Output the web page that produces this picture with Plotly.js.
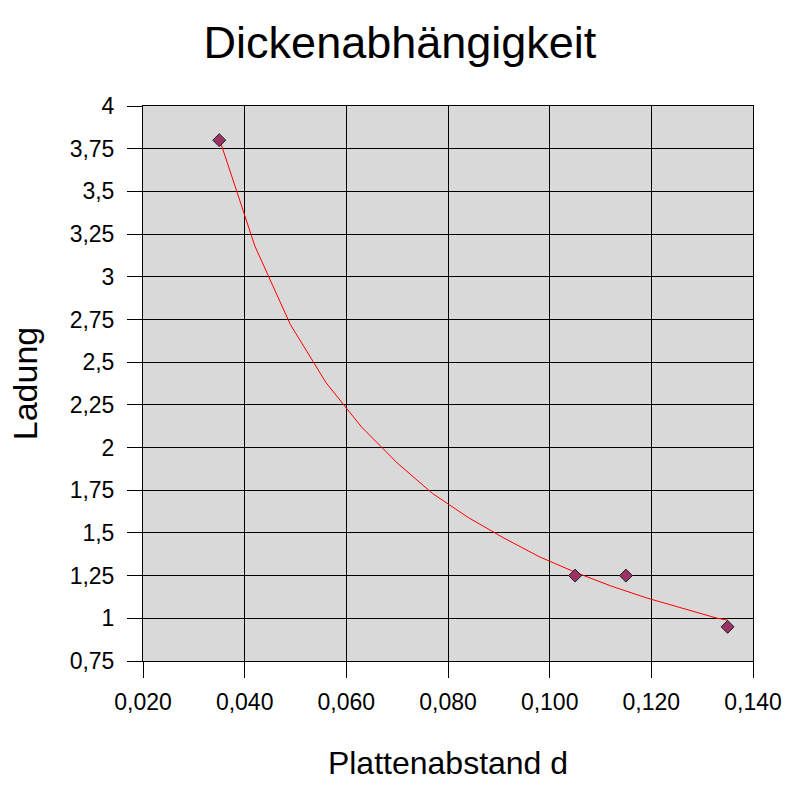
<!DOCTYPE html>
<html>
<head>
<meta charset="utf-8">
<script src="https://cdn.plot.ly/plotly-3.0.1.min.js"></script>
<style>html,body{margin:0;padding:0;background:#fff;}#chart{width:800px;height:800px;}</style>
</head>
<body>
<div id="chart"></div>
<script>
// Measured points
const plattenabstand = [0.035, 0.105, 0.115, 0.135];
const ladung = [3.80, 1.25, 1.25, 0.95];

// Trend line (power fit)
const trendX = [0.035, 0.042, 0.049, 0.056, 0.063, 0.070, 0.077, 0.084, 0.091, 0.098, 0.105, 0.112, 0.119, 0.126, 0.133, 0.135];
const trendY = [3.81, 3.18, 2.72, 2.38, 2.12, 1.91, 1.73, 1.59, 1.47, 1.36, 1.27, 1.19, 1.12, 1.06, 1.00, 0.99];

// Tick labels
const xTickVals = [0.02, 0.04, 0.06, 0.08, 0.10, 0.12, 0.14];
const xTickText = ["0,020", "0,040", "0,060", "0,080", "0,100", "0,120", "0,140"];
const yTickVals = [0.75, 1, 1.25, 1.5, 1.75, 2, 2.25, 2.5, 2.75, 3, 3.25, 3.5, 3.75, 4];
const yTickText = ["0,75", "1", "1,25", "1,5", "1,75", "2", "2,25", "2,5", "2,75", "3", "3,25", "3,5", "3,75", "4"];

const FONT = "Liberation Sans, Arial, sans-serif";

const traces = [
  {
    x: trendX, y: trendY, type: "scatter", mode: "lines",
    line: {color: "#ff0000", width: 1}, hoverinfo: "skip", showlegend: false
  },
  {
    x: plattenabstand, y: ladung, type: "scatter", mode: "markers",
    marker: {symbol: "diamond", size: 10, color: "#993366", line: {color: "#222222", width: 1}},
    showlegend: false
  }
];

const layout = {
  width: 800, height: 800,
  margin: {l: 143, r: 47, t: 106, b: 139},
  paper_bgcolor: "#ffffff",
  plot_bgcolor: "#d9d9d9",
  font: {family: FONT, color: "#000000"},
  showlegend: false,
  title: {
    text: "Dickenabhängigkeit",
    font: {family: FONT, size: 45, color: "#000"},
    x: 0.5, xanchor: "center", y: 0.947, yanchor: "middle", yref: "container"
  },
  xaxis: {
    range: [0.02, 0.14],
    tickmode: "array", tickvals: xTickVals, ticktext: xTickText,
    ticks: "outside", ticklen: 16, tickwidth: 1, tickcolor: "#000",
    ticklabelstandoff: 4,
    showgrid: true, gridcolor: "#000", gridwidth: 1,
    showline: true, linecolor: "#000", linewidth: 1, mirror: true,
    zeroline: false,
    tickfont: {family: FONT, size: 23, color: "#000"},
    title: {text: "Plattenabstand d", font: {family: FONT, size: 32, color: "#000"}, standoff: 38}
  },
  yaxis: {
    range: [0.75, 4],
    tickmode: "array", tickvals: yTickVals, ticktext: yTickText,
    ticks: "outside", ticklen: 15, tickwidth: 1, tickcolor: "#000",
    ticklabelstandoff: 8,
    showgrid: true, gridcolor: "#000", gridwidth: 1,
    showline: true, linecolor: "#000", linewidth: 1, mirror: true,
    zeroline: false,
    tickfont: {family: FONT, size: 23, color: "#000"},
    title: {text: "Ladung", font: {family: FONT, size: 34, color: "#000"}, standoff: 21}
  }
};

Plotly.newPlot("chart", traces, layout, {displayModeBar: false, staticPlot: true});
</script>
</body>
</html>
